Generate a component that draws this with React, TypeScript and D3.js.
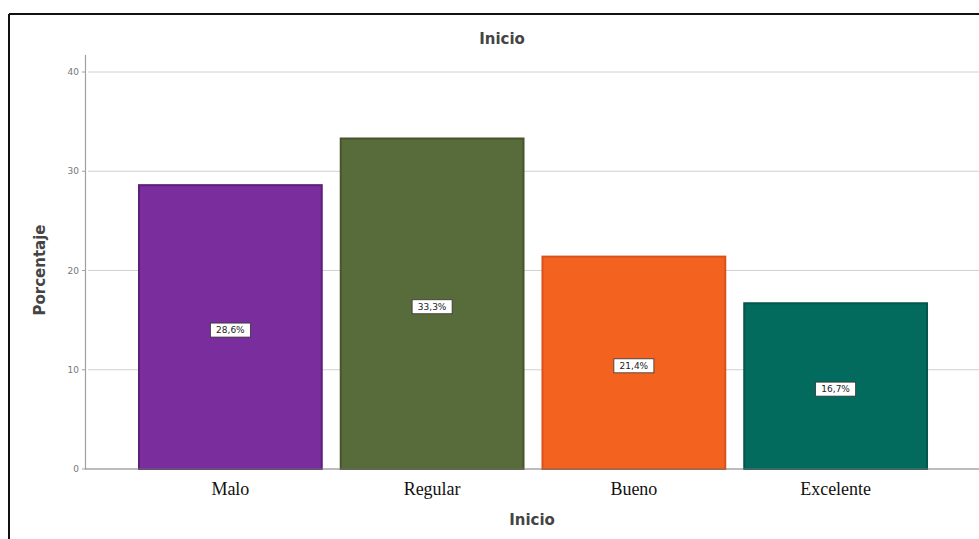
import React from "react";
import * as d3 from "d3";

const categories = ["Malo", "Regular", "Bueno", "Excelente"];
const values = [28.6, 33.3, 21.4, 16.7];
const valueLabels = ["28,6%", "33,3%", "21,4%", "16,7%"];
const yTicks = [0, 10, 20, 30, 40];
const colors = ["#7a2d9c", "#586b3b", "#f3621f", "#036a5e"];
const edgeColors = ["#5e1f7a", "#45562c", "#d9521a", "#02564c"];

const W = 979;
const H = 539;

export default function App() {
  const x = d3
    .scaleBand<string>()
    .domain(categories)
    .range([129.5, 936.5])
    .paddingInner(0.094)
    .paddingOuter(0.047);
  const y = d3.scaleLinear().domain([0, 40]).range([469, 72]);
  const bw = x.bandwidth();

  return (
    <svg
      width={W}
      height={H}
      style={{ position: "absolute", left: 0, top: 0, background: "#fff" }}
    >
      <rect x={0} y={0} width={W} height={H} fill="#fff" />
      {/* frame */}
      <line x1={9} y1={14} x2={W} y2={14} stroke="#111" strokeWidth={2} />
      <line x1={9} y1={14} x2={9} y2={H} stroke="#111" strokeWidth={2} />

      {/* title */}
      <text
        x={502}
        y={44}
        textAnchor="middle"
        fontFamily="'DejaVu Sans', sans-serif"
        fontSize={15}
        fontWeight="bold"
        fill="#444"
      >
        Inicio
      </text>

      {/* gridlines */}
      {yTicks
        .filter((t) => t > 0)
        .map((t) => (
          <line
            key={"g" + t}
            x1={88}
            x2={W}
            y1={y(t)}
            y2={y(t)}
            stroke="#d0d0d0"
            strokeWidth={1}
          />
        ))}

      {/* y axis */}
      <line x1={85.5} x2={85.5} y1={55} y2={y(0)} stroke="#a0a0a0" strokeWidth={1.2} />
      {yTicks.map((t) => (
        <g key={"t" + t}>
          <line x1={82} x2={85} y1={y(t)} y2={y(t)} stroke="#a0a0a0" />
          <text
            x={79}
            y={y(t)}
            dy="0.35em"
            textAnchor="end"
            fontFamily="'DejaVu Sans', sans-serif"
            fontSize={9}
            fill="#777"
          >
            {t}
          </text>
        </g>
      ))}
      <text
        transform={`translate(45,${270}) rotate(-90)`}
        textAnchor="middle"
        fontFamily="'DejaVu Sans', sans-serif"
        fontSize={15}
        fontWeight="bold"
        fill="#444"
      >
        Porcentaje
      </text>

      {/* bars */}
      {categories.map((c, i) => (
        <rect
          key={c}
          x={x(c)!}
          y={y(values[i])}
          width={bw}
          height={y(0) - y(values[i])}
          fill={colors[i]}
          stroke={edgeColors[i]}
          strokeWidth={2}
        />
      ))}

      {/* baseline */}
      <line x1={85} x2={W} y1={y(0)} y2={y(0)} stroke="#7a7a7a" strokeWidth={1.2} />

      {/* value labels */}
      {categories.map((c, i) => {
        const cx = x(c)! + bw / 2;
        const cy = (y(values[i]) + y(0)) / 2 + 3;
        return (
          <g key={"l" + c}>
            <rect
              x={cx - 20}
              y={cy - 7}
              width={40}
              height={14}
              fill="#fff"
              stroke="#333"
              strokeWidth={0.8}
            />
            <text
              x={cx}
              y={cy}
              dy="0.35em"
              textAnchor="middle"
              fontFamily="'DejaVu Sans', sans-serif"
              fontSize={9}
              fill="#222"
            >
              {valueLabels[i]}
            </text>
          </g>
        );
      })}

      {/* category labels */}
      {categories.map((c) => (
        <text
          key={"c" + c}
          x={x(c)! + bw / 2}
          y={495}
          textAnchor="middle"
          fontFamily="'Liberation Serif', 'Times New Roman', serif"
          fontSize={18}
          fill="#111"
        >
          {c}
        </text>
      ))}

      {/* x axis title */}
      <text
        x={532}
        y={525}
        textAnchor="middle"
        fontFamily="'DejaVu Sans', sans-serif"
        fontSize={15}
        fontWeight="bold"
        fill="#444"
      >
        Inicio
      </text>
    </svg>
  );
}
